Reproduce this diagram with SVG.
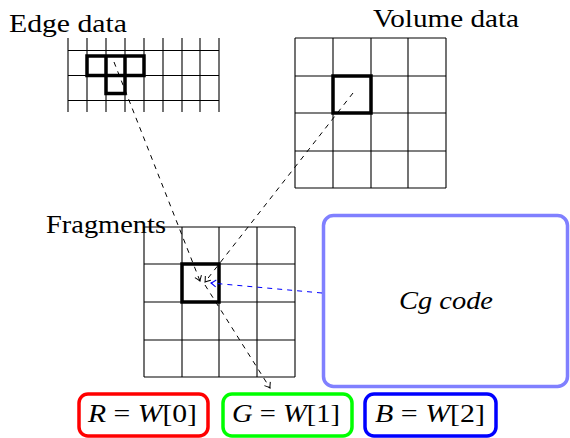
<svg xmlns="http://www.w3.org/2000/svg" width="570" height="438" viewBox="0 0 570 438">
  <style>
    text { font-family: "Liberation Serif", "Times New Roman", "DejaVu Serif", serif; fill: #000; }
    .lbl { font-size: 25px; }
    .math { font-size: 25px; }
    .it { font-style: italic; }
    .grid { stroke: #000; stroke-width: 1.1; fill: none; }
    .thick { stroke: #000; stroke-width: 3.5; fill: none; }
    .dash { stroke: #000; stroke-width: 1; stroke-dasharray: 5 5; fill: none; }
    .dashblue { stroke: #0000ff; stroke-width: 1; stroke-dasharray: 5 5; fill: none; }
    .box { fill: #fff; stroke-width: 3.5; }
  </style>
  <defs>
    <marker id="tip" viewBox="-6 -5 8 10" markerWidth="8" markerHeight="10" refX="0" refY="0" orient="auto" markerUnits="userSpaceOnUse">
      <path d="M -5 -3.5 Q -1.5 -0.8 0 0 Q -1.5 0.8 -5 3.5" fill="none" stroke="#000" stroke-width="1"/>
    </marker>
    <marker id="tipBlue" viewBox="-6 -5 8 10" markerWidth="8" markerHeight="10" refX="0" refY="0" orient="auto" markerUnits="userSpaceOnUse">
      <path d="M -5 -3.5 Q -1.5 -0.8 0 0 Q -1.5 0.8 -5 3.5" fill="none" stroke="#0000ff" stroke-width="1"/>
    </marker>
  </defs>

  <!-- Edge data: 8x2 cell strip with a T of highlighted texels -->
  <g id="edge-data">
    <text class="lbl" x="9" y="32" textLength="118" lengthAdjust="spacingAndGlyphs">Edge data</text>
    <path class="grid" d="M68 38V112 M87 38V112 M106 38V112 M125 38V112 M144 38V112 M163 38V112 M182 38V112 M200 38V112 M219 38V112 M68 50.5H219 M68 75.5H219 M68 100.5H219"/>
    <path class="thick" d="M87 56H144V75.5H87Z M106 56V75.5 M125 56V75.5 M106 75.5V93.5H125V75.5"/>
  </g>

  <!-- Volume data: 4x4 grid -->
  <g id="volume-data">
    <text class="lbl" x="373" y="27" textLength="146" lengthAdjust="spacingAndGlyphs">Volume data</text>
    <path class="grid" d="M295 38V188 M333 38V188 M371 38V188 M408 38V188 M446 38V188 M295 38H446 M295 76H446 M295 113H446 M295 151H446 M295 188H446"/>
    <rect class="thick" x="333" y="76" width="38" height="37"/>
  </g>

  <!-- Fragments: 4x4 grid -->
  <g id="fragments">
    <path class="grid" d="M144 227V377 M182 227V377 M219 227V377 M257 227V377 M295 227V377 M144 227H295 M144 264H295 M144 302H295 M144 340H295 M144 377H295"/>
    <rect class="thick" x="182" y="264" width="37" height="38"/>
    <text class="lbl" x="46" y="233" textLength="120" lengthAdjust="spacingAndGlyphs">Fragments</text>
  </g>

  <!-- Shader program -->
  <g id="cg-code">
    <rect x="323.5" y="215.5" width="244" height="171" rx="10" ry="10" fill="#fff" stroke="#8080ff" stroke-width="3.5"/>
    <text class="math it" x="446" y="309" text-anchor="middle" textLength="94" lengthAdjust="spacingAndGlyphs">Cg code</text>
  </g>

  <!-- Output channels -->
  <g id="out-r">
    <rect class="box" x="79" y="394" width="129" height="42" rx="9" ry="9" stroke="#ff0000"/>
    <text class="math" x="88" y="422" textLength="109" lengthAdjust="spacingAndGlyphs"><tspan class="it">R</tspan> = <tspan class="it">W</tspan>[0]</text>
  </g>
  <g id="out-g">
    <rect class="box" x="223" y="394" width="129" height="42" rx="9" ry="9" stroke="#00ff00"/>
    <text class="math" x="232" y="422" textLength="108" lengthAdjust="spacingAndGlyphs"><tspan class="it">G</tspan> = <tspan class="it">W</tspan>[1]</text>
  </g>
  <g id="out-b">
    <rect class="box" x="365" y="394" width="131" height="42" rx="9" ry="9" stroke="#0000ff"/>
    <text class="math" x="375" y="422" textLength="110" lengthAdjust="spacingAndGlyphs"><tspan class="it">B</tspan> = <tspan class="it">W</tspan>[2]</text>
  </g>

  <!-- Data flow -->
  <g id="connectors">
    <line class="dash" x1="114" y1="62" x2="200" y2="281" marker-end="url(#tip)"/>
    <line class="dash" x1="353" y1="93" x2="205" y2="282" marker-end="url(#tip)"/>
    <line class="dashblue" x1="322" y1="293" x2="211" y2="283" marker-end="url(#tipBlue)"/>
    <line class="dash" x1="205" y1="285" x2="270" y2="388" marker-end="url(#tip)"/>
  </g>
</svg>
